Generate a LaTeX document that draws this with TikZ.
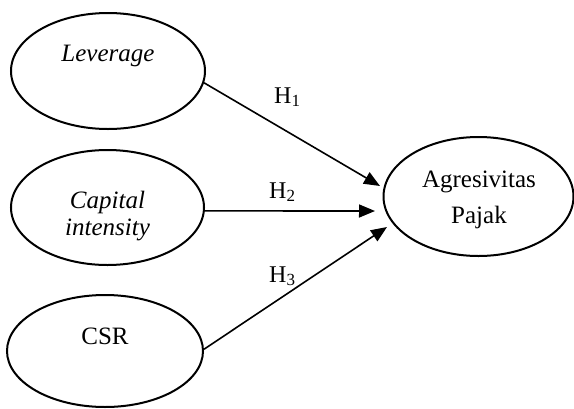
\documentclass[tikz,border=0pt]{standalone}
\usepackage{fontspec}
\setmainfont{Liberation Serif}
\usetikzlibrary{shapes.geometric,arrows.meta}
\tikzset{
  var/.style={draw=black, line width=2pt, ellipse, inner sep=0pt},
  txt/.style={anchor=base, inner sep=0pt, font=\fontsize{25}{28}\selectfont},
  hlab/.style={anchor=base west, inner sep=0pt, font=\fontsize{24}{28}\selectfont},
  link/.style={line width=1.6pt, -{Triangle[length=16pt,width=13pt]}}
}
\newcommand{\hsub}[1]{H{\fontsize{17}{17}\selectfont\raisebox{-3pt}{#1}}}
\begin{document}
\begin{tikzpicture}[x=1pt,y=-1pt]
\useasboundingbox (0,0) rectangle (574,408);
\node[var, minimum width=194pt, minimum height=116pt] (lev) at (108,71) {};
\node[var, minimum width=193pt, minimum height=115pt] (cap) at (107.5,207.5) {};
\node[var, minimum width=196pt, minimum height=112pt] (csr) at (105,351) {};
\node[var, minimum width=190pt, minimum height=119pt] (agr) at (478.5,196.5) {};
\node[txt] (levt) at (108,61) {\itshape Leverage};
\node[txt] (capt1) at (107.5,208) {\itshape Capital};
\node[txt] (capt2) at (107.5,235) {\itshape intensity};
\node[txt] (csrt) at (105,344) {CSR};
\node[txt] (agrt1) at (479,187) {Agresivitas};
\node[txt] (agrt2) at (479,223) {Pajak};
\coordinate (t1) at (380,186);
\coordinate (t2) at (375,211);
\coordinate (t3) at (387,227);
\draw[link] (lev.-7) -- (t1);
\draw[link] (cap.-2) -- (t2);
\draw[link] (csr.1) -- (t3);
\node[hlab] (h1) at (274,103) {\hsub{1}};
\node[hlab] (h2) at (269,198) {\hsub{2}};
\node[hlab] (h3) at (269,282) {\hsub{3}};
\end{tikzpicture}
\end{document}
